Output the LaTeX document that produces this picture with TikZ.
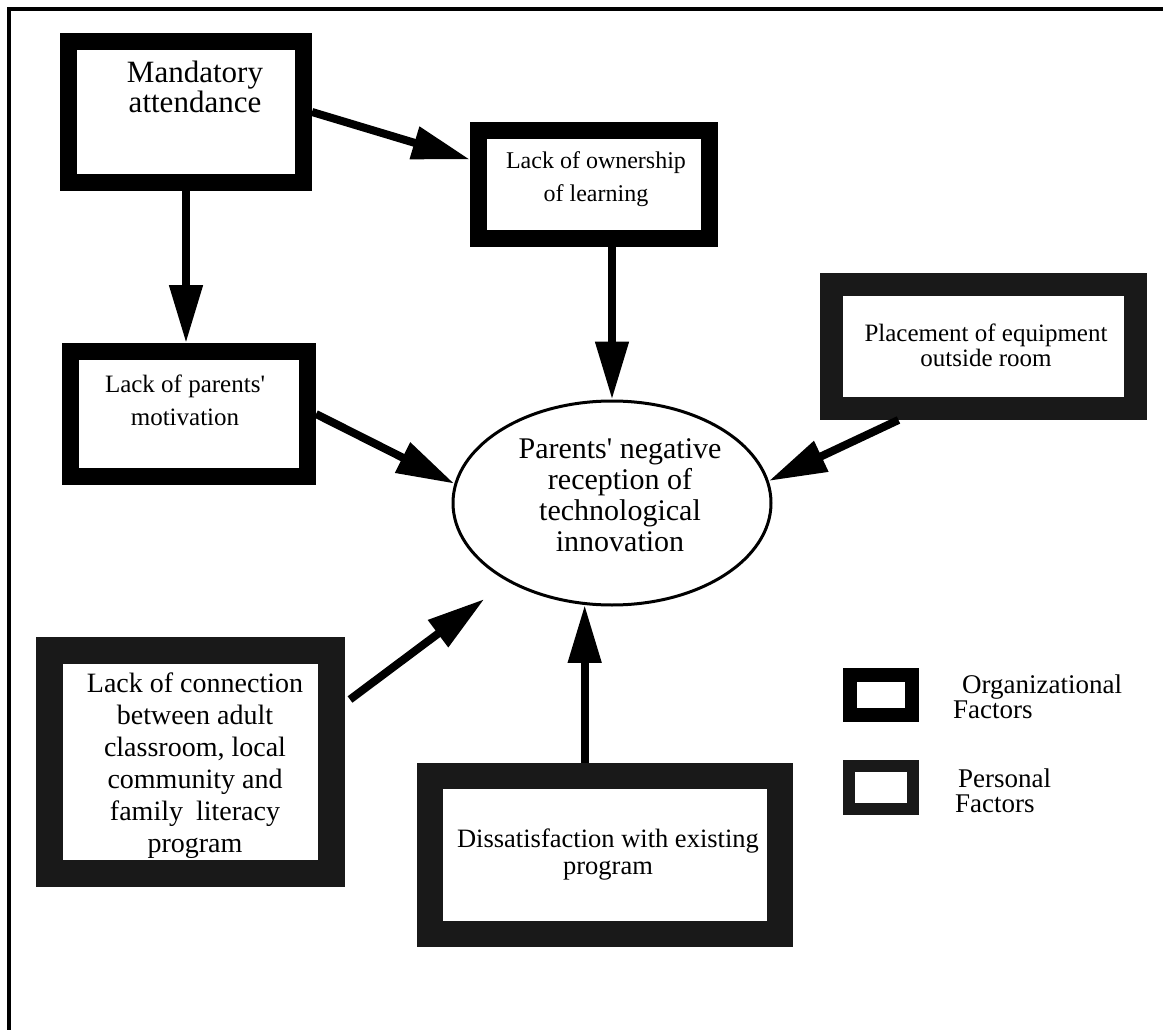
\documentclass[tikz,border=0pt]{standalone}
\usepackage{fontspec}
\setmainfont{Liberation Serif}
\usetikzlibrary{arrows.meta,shapes.geometric,calc}

\begin{document}
\begin{tikzpicture}[x=1pt,y=-1pt,
  orgbox/.style={draw=black, fill=white, inner sep=0pt},
  perbox/.style={draw=black!90, fill=white, inner sep=0pt},
  lbl/.style={anchor=north, align=center, inner sep=0pt},
  keylbl/.style={anchor=north west, align=left, inner sep=0pt,
                 font=\fontsize{27}{25}\selectfont},
  flow/.style={line width=8pt, -{Triangle[length=58pt,width=32pt]}}]

\useasboundingbox (0,0) rectangle (1163,1030);

% page frame (top and left rules only)
\coordinate (frTR) at (1163,9);
\coordinate (frTL) at (9,9);
\coordinate (frBL) at (9,1030);
\draw[line width=4pt] (frTR) -- (frTL) -- (frBL);

% organizational factors
\node[orgbox, line width=17pt, minimum width=235pt, minimum height=141pt] (mand) at (186,112) {};
\node[lbl, font=\fontsize{31}{30}\selectfont] (mandtxt) at (195,61) {Mandatory\\attendance};

\node[orgbox, line width=17pt, minimum width=231pt, minimum height=108pt] (own) at (594,184.5) {};
\node[lbl, font=\fontsize{24}{33}\selectfont] (owntxt) at (596,151) {Lack of ownership\\of learning};

\node[orgbox, line width=17pt, minimum width=237pt, minimum height=125pt] (motiv) at (189,414) {};
\node[lbl, font=\fontsize{25}{33}\selectfont] (motivtxt) at (185,375) {Lack of parents\textquotesingle\\motivation};

% personal factors
\node[perbox, line width=23pt, minimum width=304pt, minimum height=124pt] (place) at (983.5,346.5) {};
\node[lbl, font=\fontsize{25}{25}\selectfont] (placetxt) at (986,324) {Placement of equipment\\outside room};

\node[perbox, line width=27pt, minimum width=282pt, minimum height=223pt] (conn) at (190.5,762) {};
\node[lbl, font=\fontsize{28}{32}\selectfont] (conntxt) at (195,673)
  {Lack of connection\\between adult\\classroom, local\\community and\\family\hspace{6pt} literacy\\program};

\node[perbox, line width=26pt, minimum width=350pt, minimum height=158pt] (dis) at (605,855) {};
\node[lbl, font=\fontsize{26.5}{27}\selectfont] (distxt) at (608,829) {Dissatisfaction with existing\\program};

% central outcome
\node[ellipse, draw, line width=3pt, inner sep=0pt, minimum width=318pt, minimum height=204pt] (ell) at (612,503) {};
\node[lbl, font=\fontsize{30}{31}\selectfont] (elltxt) at (620,438)
  {Parents\textquotesingle{} negative\\reception of\\technological\\innovation};

% key
\node[orgbox, line width=14pt, minimum width=62pt, minimum height=40pt] (keyorg) at (881,695) {};
\node[keylbl] (keyorgtxt) at (953,675) {\hspace*{9pt}Organizational\\Factors};
\node[perbox, line width=12pt, minimum width=64pt, minimum height=43pt] (keyper) at (881,787.5) {};
\node[keylbl] (keypertxt) at (955,769) {\hspace*{3pt}Personal\\Factors};

% influences
\draw[flow] (mand.east) -- ($(own.north west)!0.3!(own.south west)$);
\draw[flow] (mand.south) -- (mand.south |- motiv.north);
\draw[flow] (ell.north |- own.south) -- (ell.north);
\draw[flow] (motiv.east) -- (ell.173);
\draw[flow] ($(place.south west)!0.24!(place.south east)$) -- (ell.8);
\draw[flow, shorten >=29pt] ([xshift=5pt]$(conn.north east)!0.25!(conn.south east)$) -- (ell.217);
\draw[flow] (ell.255 |- dis.north) -- (ell.255);

\end{tikzpicture}
\end{document}
